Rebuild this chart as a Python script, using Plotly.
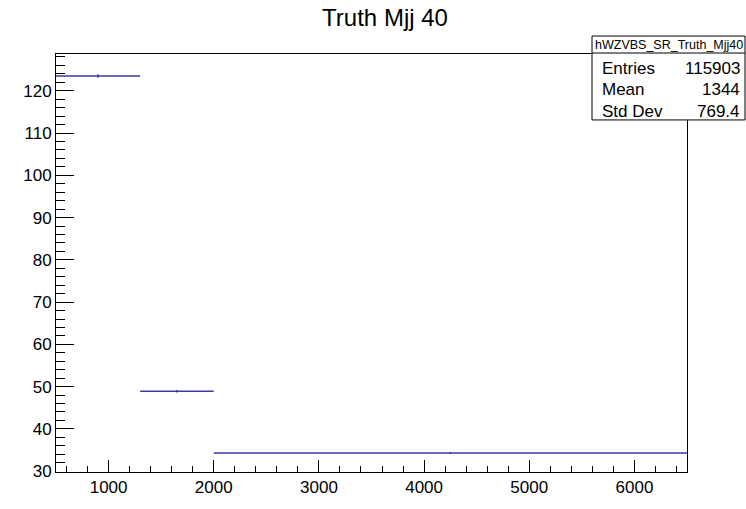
import plotly.graph_objects as go

# histogram bins (variable width) and contents
bin_edges = [500, 1300, 2000, 6500]
bin_values = [123.5, 48.9, 34.3]
bin_errors = [0.4, 0.3, 0.1]

hist_name = 'hWZVBS_SR_Truth_Mjj40'
stat_labels = ['Entries', 'Mean', 'Std Dev']
stat_values = ['115903', '1344', '769.4']

centers = [(a + b) / 2 for a, b in zip(bin_edges[:-1], bin_edges[1:])]
half_widths = [(b - a) / 2 for a, b in zip(bin_edges[:-1], bin_edges[1:])]

W, H = 746, 509
L, R, T, B = 56, 59, 54, 24
line_col = '#3a3aa8'
font = 'Liberation Sans, Arial, Helvetica, sans-serif'

fig = go.Figure()
fig.add_trace(go.Scatter(
    x=centers,
    y=bin_values,
    mode='markers',
    marker=dict(size=2, color=line_col),
    error_x=dict(type='data', array=half_widths, width=0, thickness=1.3, color=line_col),
    error_y=dict(type='data', array=bin_errors, width=0, thickness=1.3, color=line_col),
    showlegend=False,
    hoverinfo='x+y'
))


def px_x(p):
    return (p - L) / (W - L - R)


def px_y(p):
    return (H - B - p) / (H - T - B)


# stats box
bx0, bx1, by0, by1, bsep = 592, 745, 35.5, 122, 53
fig.add_shape(type='rect', xref='paper', yref='paper',
              x0=px_x(bx0), x1=px_x(bx1), y0=px_y(by1), y1=px_y(by0),
              line=dict(color='black', width=1), fillcolor='white', layer='above')
fig.add_shape(type='line', xref='paper', yref='paper',
              x0=px_x(bx0), x1=px_x(bx1), y0=px_y(bsep), y1=px_y(bsep),
              line=dict(color='black', width=1), layer='above')
fig.add_annotation(x=px_x((bx0 + bx1) / 2), y=px_y(44.5), xref='paper', yref='paper',
                   text=hist_name, showarrow=False, xanchor='center', yanchor='middle',
                   font=dict(family=font, size=12.5, color='black'))
row_y = [69, 91, 113]
for lab, val, yy in zip(stat_labels, stat_values, row_y):
    fig.add_annotation(x=px_x(600), y=px_y(yy), xref='paper', yref='paper',
                       text=lab, showarrow=False, xanchor='left', yanchor='middle',
                       font=dict(family=font, size=17, color='black'))
    fig.add_annotation(x=px_x(742), y=px_y(yy), xref='paper', yref='paper',
                       text=val, showarrow=False, xanchor='right', yanchor='middle',
                       font=dict(family=font, size=17, color='black'))

fig.update_xaxes(
    range=[500, 6500],
    tickvals=[1000, 2000, 3000, 4000, 5000, 6000],
    ticks='inside', ticklen=12, tickcolor='black', tickwidth=1,
    minor=dict(ticks='inside', ticklen=6, dtick=200, tick0=0, tickcolor='black'),
    showline=True, linecolor='black', linewidth=1, mirror=True,
    showgrid=False, zeroline=False,
    tickfont=dict(family=font, size=17, color='black')
)
fig.update_yaxes(
    range=[29.8, 128.7],
    tickvals=[30, 40, 50, 60, 70, 80, 90, 100, 110, 120],
    ticks='inside', ticklen=18, tickcolor='black', tickwidth=1,
    minor=dict(ticks='inside', ticklen=9, dtick=2, tick0=0, tickcolor='black'),
    showline=True, linecolor='black', linewidth=1, mirror=True,
    showgrid=False, zeroline=False,
    tickfont=dict(family=font, size=17, color='black')
)

fig.update_layout(
    width=W, height=H,
    margin=dict(l=L, r=R, t=T, b=B),
    paper_bgcolor='white', plot_bgcolor='white',
    title=dict(text='Truth Mjj 40', x=385 / W, xanchor='center', xref='container',
               y=1 - 18 / H, yanchor='middle', yref='container',
               font=dict(family=font, size=24, color='black')),
    font=dict(family=font, color='black'),
)

# drop the page's default body margin so the figure sits at the top-left corner
fig.write_html("out.html", config={'displayModeBar': False},
               post_script="document.body.style.margin='0px';")
